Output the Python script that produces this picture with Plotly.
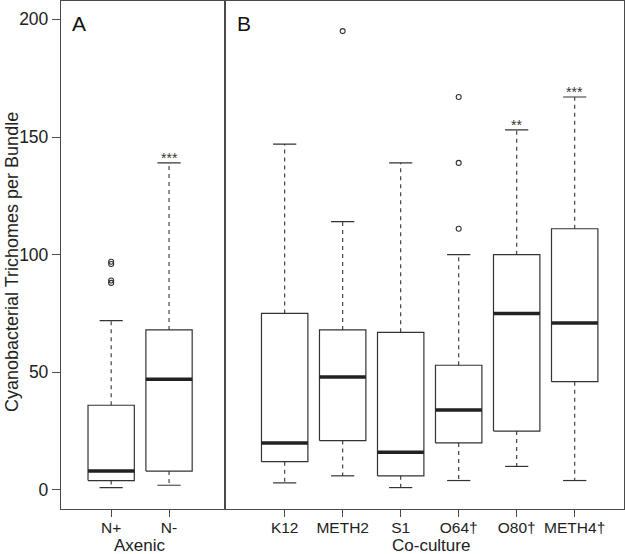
import plotly.graph_objects as go

# ---- data ----
axenic_labels = ["N+", "N-"]
axenic_lower = [1, 2]
axenic_q1 = [4, 8]
axenic_median = [8, 47]
axenic_q3 = [36, 68]
axenic_upper = [72, 139]
axenic_outlier_group = [1, 1, 1, 1]
axenic_outlier_value = [88, 89, 96, 97]
axenic_signif = ["", "***"]

cocult_labels = ["K12", "METH2", "S1", "O64†", "O80†", "METH4†"]
cocult_lower = [3, 6, 1, 4, 10, 4]
cocult_q1 = [12, 21, 6, 20, 25, 46]
cocult_median = [20, 48, 16, 34, 75, 71]
cocult_q3 = [75, 68, 67, 53, 100, 111]
cocult_upper = [147, 114, 139, 100, 153, 167]
cocult_outlier_group = [2, 4, 4, 4]
cocult_outlier_value = [195, 111, 139, 167]
cocult_signif = ["", "", "", "", "**", "***"]

y_ticks = [0, 50, 100, 150, 200]

# ---- style ----
FONT = "Liberation Sans, Arial, Helvetica, sans-serif"
LINE = "#333333"
FRAME = "#4a4a4a"
TEXT = "#222222"
HALF_BOX = 0.4
HALF_CAP = 0.2

W, H = 625, 554
ML, MR, MT, MB = 61, 1, 1, 45
PW = W - ML - MR
PH = H - MT - MB


def px_x(px):
    return (px - ML) / PW


def px_y(py):
    return 1 - (py - MT) / PH


fig = go.Figure()


def add_panel(labels, lower, q1, med, q3, upper, og, ov, sig, xref, yref):
    bx, by, mx, my, wx, wy, cx, cy = [], [], [], [], [], [], [], []
    for i in range(len(labels)):
        p = i + 1
        bx += [p - HALF_BOX, p + HALF_BOX, p + HALF_BOX, p - HALF_BOX, p - HALF_BOX, None]
        by += [q1[i], q1[i], q3[i], q3[i], q1[i], None]
        mx += [p - HALF_BOX, p + HALF_BOX, None]
        my += [med[i], med[i], None]
        wx += [p, p, None, p, p, None]
        wy += [q3[i], upper[i], None, q1[i], lower[i], None]
        cx += [p - HALF_CAP, p + HALF_CAP, None, p - HALF_CAP, p + HALF_CAP, None]
        cy += [upper[i], upper[i], None, lower[i], lower[i], None]
    common = dict(xaxis=xref, yaxis=yref, mode="lines", hoverinfo="skip", showlegend=False)
    fig.add_trace(go.Scatter(x=wx, y=wy, line=dict(color=LINE, width=1.1, dash="4px,4px"), **common))
    fig.add_trace(go.Scatter(x=cx, y=cy, line=dict(color=LINE, width=1.2), **common))
    fig.add_trace(go.Scatter(x=bx, y=by, line=dict(color=LINE, width=1.2), **common))
    fig.add_trace(go.Scatter(x=mx, y=my, line=dict(color="#222222", width=3.5), **common))
    fig.add_trace(go.Scatter(
        x=og, y=ov, xaxis=xref, yaxis=yref, mode="markers", hoverinfo="skip", showlegend=False,
        marker=dict(symbol="circle-open", size=5, color=LINE, line=dict(width=1.1)),
    ))
    for i, s in enumerate(sig):
        if s:
            fig.add_annotation(x=i + 1, y=upper[i], xref=xref, yref="y", text=s,
                               showarrow=False, yanchor="bottom", yshift=-5,
                               font=dict(family=FONT, size=14, color="#333333"))


add_panel(axenic_labels, axenic_lower, axenic_q1, axenic_median, axenic_q3, axenic_upper,
          axenic_outlier_group, axenic_outlier_value, axenic_signif, "x", "y")
add_panel(cocult_labels, cocult_lower, cocult_q1, cocult_median, cocult_q3, cocult_upper,
          cocult_outlier_group, cocult_outlier_value, cocult_signif, "x2", "y2")

split = px_x(225.4)
line_common = dict(showline=True, linecolor=FRAME, linewidth=1.3, mirror=True,
                   showgrid=False, zeroline=False, automargin=False)
x_common = dict(ticks="outside", ticklen=7, tickcolor=FRAME, tickwidth=1.1,
                ticklabelstandoff=-3,
                tickfont=dict(family=FONT, size=15.5, color=TEXT), **line_common)

fig.update_layout(
    width=W, height=H,
    margin=dict(l=ML, r=MR, t=MT, b=MB),
    paper_bgcolor="white", plot_bgcolor="white",
    xaxis=dict(domain=[0, split], range=[0.133, 2.974], tickmode="array",
               tickvals=list(range(1, len(axenic_labels) + 1)), ticktext=axenic_labels,
               anchor="y", **x_common),
    xaxis2=dict(domain=[split, 1], range=[-0.022, 6.85], tickmode="array",
                tickvals=list(range(1, len(cocult_labels) + 1)), ticktext=cocult_labels,
                anchor="y2", **x_common),
    yaxis=dict(range=[-8.1, 207.8], tickmode="array", tickvals=y_ticks, anchor="x",
               ticks="outside", ticklen=8, tickcolor=FRAME, tickwidth=1.1,
               tickfont=dict(family=FONT, size=17.5, color=TEXT), **line_common),
    yaxis2=dict(range=[-8.1, 207.8], matches="y", anchor="x2", showticklabels=False,
                ticks="", **line_common),
)

fig.add_annotation(text="Cyanobacterial Trichomes per Bundle", xref="paper", yref="paper",
                   x=px_x(12), y=px_y(262), textangle=-90, showarrow=False,
                   xanchor="center", yanchor="middle", borderpad=0,
                   font=dict(family=FONT, size=18, color=TEXT))
fig.add_annotation(text="Axenic", xref="paper", yref="paper", x=px_x(140), y=px_y(545.5),
                   showarrow=False, xanchor="center", yanchor="middle", borderpad=0,
                   font=dict(family=FONT, size=17, color=TEXT))
fig.add_annotation(text="Co-culture", xref="paper", yref="paper", x=px_x(431), y=px_y(545.5),
                   showarrow=False, xanchor="center", yanchor="middle", borderpad=0,
                   font=dict(family=FONT, size=17, color=TEXT))
fig.add_annotation(text="A", xref="paper", yref="paper", x=px_x(78.8), y=px_y(23.3),
                   showarrow=False, xanchor="center", yanchor="middle",
                   font=dict(family=FONT, size=21, color="#111111"))
fig.add_annotation(text="B", xref="paper", yref="paper", x=px_x(243.7), y=px_y(23.3),
                   showarrow=False, xanchor="center", yanchor="middle",
                   font=dict(family=FONT, size=21, color="#111111"))

fig.write_html("out.html", config={"displayModeBar": False},
               post_script="document.body.style.margin='0';")
